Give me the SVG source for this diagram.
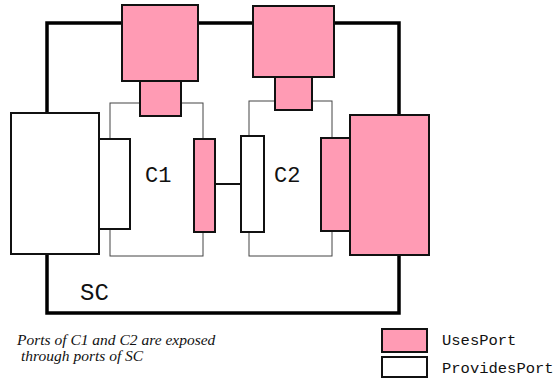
<svg xmlns="http://www.w3.org/2000/svg" width="556" height="382" viewBox="0 0 556 382">
<style>
.uses{fill:#ff9bb4;stroke:#111;stroke-width:2}
.prov{fill:#fff;stroke:#111;stroke-width:2}
.comp{fill:none;stroke:#444;stroke-width:1}
.mono{font-family:"Liberation Mono",monospace;fill:#111}
</style>
<rect width="556" height="382" fill="#fff"/>
<g id="SC">
<rect x="47" y="23" width="352" height="290" fill="none" stroke="#000" stroke-width="3.5"/>
<text class="mono" x="80" y="300" font-size="24">SC</text>
</g>
<g id="C1">
<rect class="comp" x="110" y="103" width="93" height="153"/>
<text class="mono" x="145" y="182" font-size="22">C1</text>
</g>
<g id="C2">
<rect class="comp" x="249" y="101" width="83" height="155"/>
<text class="mono" x="274" y="182" font-size="22">C2</text>
</g>
<g id="connectors">
<line x1="211" y1="184" x2="241" y2="184" stroke="#111" stroke-width="2"/>
</g>
<g id="sc-uses-top1"><rect class="uses" x="122" y="5" width="76" height="76"/></g>
<g id="c1-uses-top"><rect class="uses" x="140" y="81" width="41" height="35"/></g>
<g id="sc-uses-top2"><rect class="uses" x="253" y="6" width="81" height="71"/></g>
<g id="c2-uses-top"><rect class="uses" x="275" y="77" width="37" height="33"/></g>
<g id="sc-prov-left"><rect class="prov" x="11" y="113" width="88" height="141"/></g>
<g id="c1-prov-left"><rect class="prov" x="99" y="139" width="31" height="90"/></g>
<g id="c1-uses-right"><rect class="uses" x="194" y="139" width="21" height="93"/></g>
<g id="c2-prov-left"><rect class="prov" x="241" y="136" width="23" height="96"/></g>
<g id="c2-uses-right"><rect class="uses" x="321" y="138" width="29" height="93"/></g>
<g id="sc-uses-right"><rect class="uses" x="350" y="115" width="79" height="140"/></g>
<g id="caption">
<text font-family="Liberation Serif,serif" font-style="italic" font-size="15.5" fill="#111"><tspan x="17" y="345">Ports of C1 and C2 are exposed</tspan><tspan x="21" y="361">through ports of SC</tspan></text>
</g>
<g id="legend">
<rect class="uses" x="382" y="329" width="45" height="23"/>
<rect class="prov" x="382" y="357" width="45" height="20"/>
<text class="mono" x="442" y="345" font-size="15.5">UsesPort</text>
<text class="mono" x="442" y="373" font-size="15.5">ProvidesPort</text>
</g>
</svg>
